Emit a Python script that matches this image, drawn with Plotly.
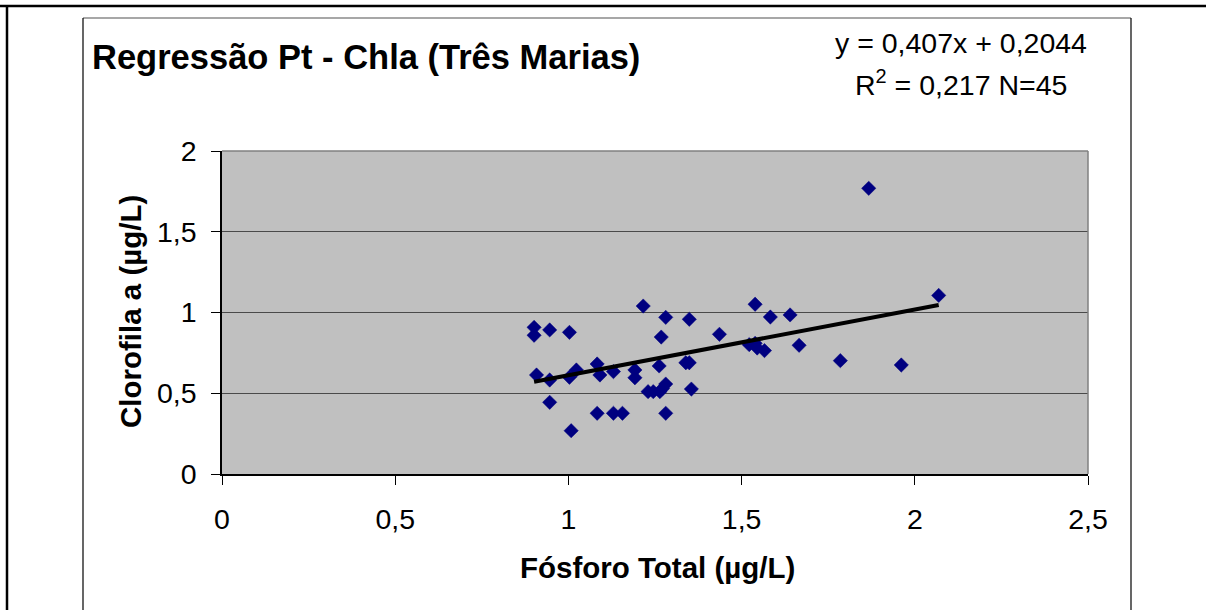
import plotly.graph_objects as go

# Fósforo total (x) e clorofila a (y)
fosforo = [0.901, 0.901, 0.908, 0.946, 0.946, 0.946, 1.003, 1.003, 1.008, 1.023,
           1.083, 1.091, 1.083, 1.130, 1.130, 1.156, 1.192, 1.192, 1.216, 1.230,
           1.245, 1.264, 1.262, 1.268, 1.281, 1.281, 1.281, 1.339, 1.349, 1.349,
           1.355, 1.436, 1.522, 1.539, 1.545, 1.566, 1.539, 1.583, 1.640, 1.666,
           1.785, 1.867, 1.961, 2.069, 1.272]
clorofila = [0.908, 0.859, 0.613, 0.892, 0.582, 0.444, 0.877, 0.599, 0.268, 0.644,
             0.681, 0.613, 0.376, 0.634, 0.376, 0.376, 0.644, 0.596, 1.040, 0.510,
             0.510, 0.510, 0.669, 0.848, 0.970, 0.557, 0.376, 0.689, 0.689, 0.958,
             0.526, 0.865, 0.801, 0.809, 0.780, 0.764, 1.051, 0.972, 0.985, 0.797,
             0.702, 1.769, 0.675, 1.106, 0.530]

slope = 0.407
intercept = 0.2044
x_ticks = [0, 0.5, 1, 1.5, 2, 2.5]
x_labels = ["0", "0,5", "1", "1,5", "2", "2,5"]
y_ticks = [0, 0.5, 1, 1.5, 2]
y_labels = ["0", "0,5", "1", "1,5", "2"]

# plot area in pixels
W, H = 1206, 610
L, R, T, B = 222, 1088, 151, 474


def px(x):
    return (x - L) / (R - L)


def py(y):
    return (B - y) / (B - T)


FONT = "Liberation Sans, Arial, sans-serif"

trend_x = [min(fosforo), max(fosforo)]
trend_y = [slope * v + intercept for v in trend_x]

fig = go.Figure()
fig.add_trace(go.Scatter(
    x=fosforo, y=clorofila, mode="markers",
    marker=dict(symbol="diamond", size=11, color="#000080",
                line=dict(width=0.5, color="#000080")),
    showlegend=False,
))
fig.add_trace(go.Scatter(
    x=trend_x, y=trend_y, mode="lines",
    line=dict(color="black", width=4),
    showlegend=False,
))

fig.update_xaxes(
    range=[0, 2.5], tickvals=x_ticks, ticktext=x_labels,
    showgrid=False, zeroline=False,
    showline=True, linecolor="black", linewidth=1.5,
    ticks="outside", ticklen=9, tickcolor="black",
    ticklabelstandoff=10,
    tickfont=dict(family=FONT, size=28.5, color="black"),
)
fig.update_yaxes(
    range=[0, 2], tickvals=y_ticks, ticktext=y_labels,
    showgrid=True, gridcolor="#4a4a4a", gridwidth=1.2, zeroline=False,
    showline=True, linecolor="black", linewidth=1.5,
    ticks="outside", ticklen=9, tickcolor="black",
    ticklabelstandoff=9,
    tickfont=dict(family=FONT, size=28.5, color="black"),
)

shapes = [
    # outer frame (top and left)
    dict(type="line", xref="paper", yref="paper", x0=px(0), x1=px(W), y0=py(6), y1=py(6),
         line=dict(color="black", width=2.5)),
    dict(type="line", xref="paper", yref="paper", x0=px(7), x1=px(7), y0=py(6), y1=py(H + 5),
         line=dict(color="black", width=2.5)),
    # inner chart frame
    dict(type="line", xref="paper", yref="paper", x0=px(83), x1=px(1131), y0=py(18), y1=py(18),
         line=dict(color="#505050", width=1.2)),
    dict(type="line", xref="paper", yref="paper", x0=px(83), x1=px(83), y0=py(18), y1=py(H + 5),
         line=dict(color="black", width=1.2)),
    dict(type="line", xref="paper", yref="paper", x0=px(1131), x1=px(1131), y0=py(18), y1=py(H + 5),
         line=dict(color="black", width=1.2)),
    # plot area border top / right
    dict(type="line", xref="paper", yref="paper", x0=0, x1=1, y0=1, y1=1,
         line=dict(color="#808080", width=1.5)),
    dict(type="line", xref="paper", yref="paper", x0=1, x1=1, y0=0, y1=1,
         line=dict(color="#808080", width=1.5)),
]

annotations = [
    dict(text="<b>Regressão Pt - Chla (Três Marias)</b>", x=px(90), y=py(57),
         xanchor="left", yanchor="middle", font=dict(family=FONT, size=34.5, color="black")),
    dict(text="y = 0,407x + 0,2044", x=px(961), y=py(43),
         xanchor="center", yanchor="middle", font=dict(family=FONT, size=28.5, color="black")),
    dict(text="R<sup>2</sup> = 0,217 N=45", x=px(961), y=py(83),
         xanchor="center", yanchor="middle", font=dict(family=FONT, size=28.5, color="black")),
    dict(text="<b>Fósforo Total (µg/L)</b>", x=px(657), y=py(567),
         xanchor="center", yanchor="middle", font=dict(family=FONT, size=29.5, color="black")),
    dict(text="<b>Clorofila a (µg/L)</b>", x=px(130), y=py(312), textangle=-90,
         xanchor="center", yanchor="middle", font=dict(family=FONT, size=29.5, color="black")),
]
for a in annotations:
    a.update(xref="paper", yref="paper", showarrow=False)

fig.update_layout(
    width=W, height=H, autosize=False,
    margin=dict(l=L, r=W - R, t=T, b=H - B, pad=0),
    plot_bgcolor="#C0C0C0", paper_bgcolor="white",
    shapes=shapes, annotations=annotations,
    showlegend=False,
)

# remove the page margin so the figure sits at the window's top-left corner
fig.write_html("out.html", config={"displayModeBar": False},
               post_script="document.body.style.margin = '0';")
